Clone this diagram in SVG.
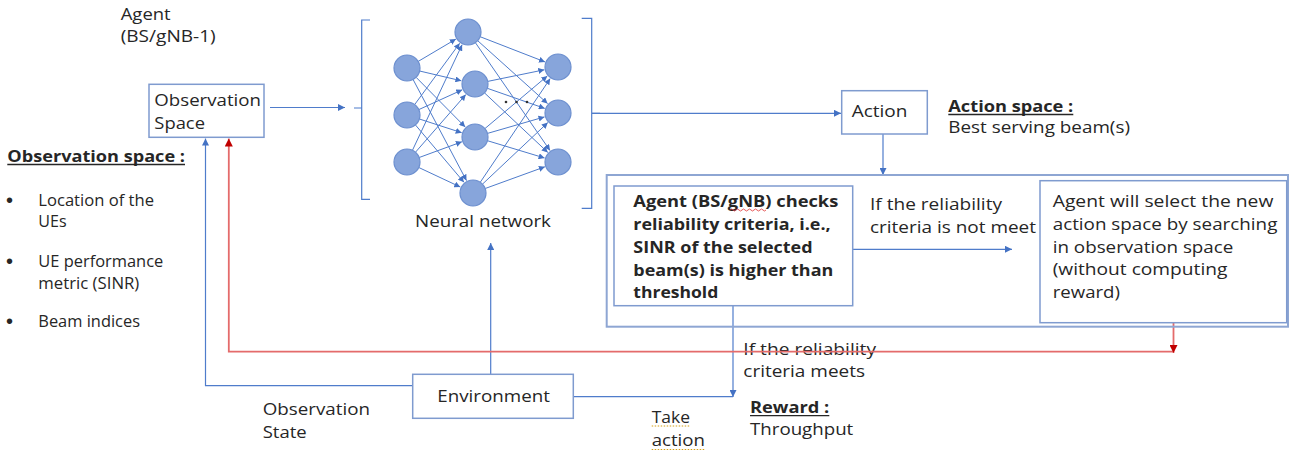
<svg xmlns="http://www.w3.org/2000/svg" width="1290" height="452" viewBox="0 0 1290 452">
<style>
text{font-family:"Open Sans","Liberation Sans",sans-serif;font-size:15.5px;fill:#262626}
.b{font-weight:bold}
.bul{font-size:20px;font-family:"Liberation Sans",sans-serif}
.box{fill:#fff;stroke:#7f9bcf;stroke-width:1.5}
.ln{fill:none;stroke:#4f7ccb;stroke-width:1.2}
.nn{stroke:#4f7ccb;stroke-width:1}
.red{fill:none;stroke:#e46b6b;stroke-width:1.8}
.node{fill:#87a5db;stroke:#6c8fcf;stroke-width:1.2}
.ul{stroke:#262626;stroke-width:1.3}
</style>
<defs>
<marker id="ab" viewBox="0 0 8 8" refX="8" refY="4" markerWidth="7" markerHeight="7" markerUnits="userSpaceOnUse" orient="auto"><path d="M0,0 L8,4 L0,8 z" fill="#4472c4"/></marker>
<marker id="an" viewBox="0 0 8 8" refX="8" refY="4" markerWidth="6" markerHeight="6" markerUnits="userSpaceOnUse" orient="auto"><path d="M0,0 L8,4 L0,8 z" fill="#4472c4"/></marker>
<marker id="ar" viewBox="0 0 8 8" refX="8" refY="4" markerWidth="8" markerHeight="8" markerUnits="userSpaceOnUse" orient="auto"><path d="M0,0 L8,4 L0,8 z" fill="#c00000"/></marker>
</defs>
<rect width="1290" height="452" fill="#fff"/>

<g id="labels">
<text x="120.7" y="20" textLength="50" lengthAdjust="spacingAndGlyphs">Agent</text>
<text x="120.7" y="42" textLength="95" lengthAdjust="spacingAndGlyphs">(BS/gNB-1)</text>
<text class="b" x="7.3" y="161.7" textLength="177.7" lengthAdjust="spacingAndGlyphs">Observation space :</text>
<line class="ul" x1="7.3" y1="164.5" x2="185" y2="164.5"/>
<text class="bul" x="6" y="207">•</text>
<text class="bul" x="6" y="268.3">•</text>
<text class="bul" x="6" y="328.3">•</text>
<text x="38.3" y="206" textLength="115.7" lengthAdjust="spacingAndGlyphs">Location of the</text>
<text x="38.3" y="226.7" textLength="28.3" lengthAdjust="spacingAndGlyphs">UEs</text>
<text x="38.3" y="267.3" textLength="125" lengthAdjust="spacingAndGlyphs">UE performance</text>
<text x="38.3" y="289.3" textLength="101" lengthAdjust="spacingAndGlyphs">metric (SINR)</text>
<text x="38.3" y="327.3" textLength="101.7" lengthAdjust="spacingAndGlyphs">Beam indices</text>
<text class="b" x="948.3" y="111.7" textLength="125" lengthAdjust="spacingAndGlyphs">Action space :</text>
<line class="ul" x1="948.3" y1="114.5" x2="1073.3" y2="114.5"/>
<text x="948.3" y="133.3" textLength="181.7" lengthAdjust="spacingAndGlyphs">Best serving beam(s)</text>
<text x="870" y="210" textLength="132" lengthAdjust="spacingAndGlyphs">If the reliability</text>
<text x="870" y="232.7" textLength="166" lengthAdjust="spacingAndGlyphs">criteria is not meet</text>
<text x="743.3" y="355" textLength="132.7" lengthAdjust="spacingAndGlyphs">If the reliability</text>
<text x="743.3" y="377.3" textLength="121.7" lengthAdjust="spacingAndGlyphs">criteria meets</text>
<text class="b" x="750" y="412.7" textLength="79.3" lengthAdjust="spacingAndGlyphs">Reward :</text>
<line class="ul" x1="750" y1="415.7" x2="829.3" y2="415.7"/>
<text x="750" y="435" textLength="103.3" lengthAdjust="spacingAndGlyphs">Throughput</text>
<text x="651.7" y="422.7" textLength="38.3" lengthAdjust="spacingAndGlyphs">Take</text>
<text x="651.7" y="446" textLength="53.3" lengthAdjust="spacingAndGlyphs">action</text>
<line x1="651.7" y1="426" x2="690" y2="426" stroke="#d4a017" stroke-width="1.2" stroke-dasharray="1.5 1.5"/>
<line x1="651.7" y1="449.5" x2="705" y2="449.5" stroke="#d4a017" stroke-width="1.2" stroke-dasharray="1.5 1.5"/>
<text x="262.7" y="415" textLength="107.3" lengthAdjust="spacingAndGlyphs">Observation</text>
<text x="262.7" y="438.3" textLength="44" lengthAdjust="spacingAndGlyphs">State</text>
</g>

<g id="connectors">
<line class="ln" x1="270" y1="107.5" x2="345" y2="107.5" marker-end="url(#ab)"/>
<line class="ln" x1="592" y1="113.3" x2="841" y2="113.3" marker-end="url(#ab)"/>
<line class="ln" x1="883" y1="134" x2="883" y2="175" marker-end="url(#ab)"/>
<line class="ln" x1="853" y1="249.3" x2="1012" y2="249.3" marker-end="url(#ab)"/>
<line class="ln" x1="733" y1="306" x2="733" y2="397" marker-end="url(#ab)"/>
<line class="ln" x1="573.3" y1="396.7" x2="733" y2="396.7"/>
<line class="ln" x1="490.7" y1="374.3" x2="490.7" y2="243" marker-end="url(#ab)"/>
<polyline class="ln" points="412.7,385.7 205.5,385.7 205.5,138.5" marker-end="url(#ab)"/>
<polyline class="red" points="1173.5,351.7 228.8,351.7 228.8,138.5" marker-end="url(#ar)"/>
<line class="red" x1="1173.5" y1="320" x2="1173.5" y2="353" marker-end="url(#ar)"/>
</g>

<g id="observation-space">
<rect class="box" x="149" y="84.3" width="115" height="53"/>
<text x="154.3" y="106" textLength="106.7" lengthAdjust="spacingAndGlyphs">Observation</text>
<text x="154.3" y="128.5" textLength="50.7" lengthAdjust="spacingAndGlyphs">Space</text>
</g>

<g id="neural-network">
<path class="ln" d="M370,20 H361.7 V199.3 H370 M354,108 H361.7"/>
<path class="ln" d="M581.7,18.3 H591.7 V208.3 H581.7 M591.7,113.3 H600"/>
<g class="nn" marker-end="url(#an)">
<line x1="418.2" y1="61.4" x2="455.9" y2="39.1"/>
<line x1="419.6" y1="71" x2="461.4" y2="80.8"/>
<line x1="416.1" y1="77.3" x2="465.2" y2="127"/>
<line x1="413.1" y1="79.5" x2="466.5" y2="180.6"/>
<line x1="414.7" y1="104.5" x2="459.7" y2="43.3"/>
<line x1="418.8" y1="109.6" x2="462.3" y2="89.8"/>
<line x1="419.4" y1="119" x2="461.7" y2="132.7"/>
<line x1="415.4" y1="124.9" x2="464" y2="182.3"/>
<line x1="412.5" y1="150.2" x2="462.1" y2="44.7"/>
<line x1="415.5" y1="152.2" x2="465.8" y2="94.6"/>
<line x1="419.2" y1="157.5" x2="461.9" y2="141.8"/>
<line x1="418.8" y1="167.5" x2="460.3" y2="187"/>
<line x1="480.1" y1="36.7" x2="545" y2="61.9"/>
<line x1="477.7" y1="40.7" x2="547.6" y2="103.6"/>
<line x1="475.4" y1="42.7" x2="550" y2="150.5"/>
<line x1="487.7" y1="81.4" x2="544.3" y2="69.8"/>
<line x1="487.3" y1="88.3" x2="544.8" y2="108.4"/>
<line x1="484.5" y1="92.9" x2="547.8" y2="152.4"/>
<line x1="484.9" y1="128.6" x2="547.3" y2="76"/>
<line x1="487.5" y1="133.4" x2="544.5" y2="116.9"/>
<line x1="487.4" y1="140.7" x2="544.6" y2="158"/>
<line x1="480.3" y1="182.2" x2="550.2" y2="78.6"/>
<line x1="482.5" y1="184.1" x2="547.8" y2="122.6"/>
<line x1="485.2" y1="188.5" x2="544.9" y2="166.8"/>
</g>
<circle class="node" cx="407" cy="68" r="13"/>
<circle class="node" cx="407" cy="115" r="13"/>
<circle class="node" cx="407" cy="162" r="13"/>
<circle class="node" cx="468" cy="32" r="13"/>
<circle class="node" cx="475" cy="84" r="13"/>
<circle class="node" cx="475" cy="137" r="13"/>
<circle class="node" cx="473" cy="193" r="13"/>
<circle class="node" cx="558" cy="67" r="13"/>
<circle class="node" cx="558" cy="113" r="13"/>
<circle class="node" cx="558" cy="162" r="13"/>
<g fill="#333"><circle cx="506" cy="102" r="1.3"/><circle cx="516.5" cy="102" r="1.3"/><circle cx="527" cy="102" r="1.3"/></g>
<text x="415" y="226.7" textLength="136" lengthAdjust="spacingAndGlyphs">Neural network</text>
</g>

<g id="action">
<rect class="box" x="841.7" y="90.7" width="85.6" height="43.3"/>
<text x="851.7" y="117.3" textLength="55.7" lengthAdjust="spacingAndGlyphs">Action</text>
</g>

<g id="reliability-container">
<rect fill="none" stroke="#8ea6d3" stroke-width="2" x="606.7" y="175" width="681.3" height="151.7"/>
</g>

<g id="check-box">
<rect class="box" x="614" y="186" width="238.7" height="119.7"/>
<text class="b" x="633.3" y="207.3" textLength="205" lengthAdjust="spacingAndGlyphs">Agent (BS/gNB) checks</text>
<path d="M730,210 q1.5,-2 3,0 t3,0 t3,0 t3,0 t3,0 t3,0 t3,0 t3,0 t3,0 t3,0 t3,0 t3,0" fill="none" stroke="#e03030" stroke-width="0.8"/>
<text class="b" x="633.3" y="230" textLength="197.3" lengthAdjust="spacingAndGlyphs">reliability criteria, i.e.,</text>
<text class="b" x="633.3" y="252.8" textLength="179.3" lengthAdjust="spacingAndGlyphs">SINR of the selected</text>
<text class="b" x="633.3" y="275.6" textLength="200" lengthAdjust="spacingAndGlyphs">beam(s) is higher than</text>
<text class="b" x="633.3" y="298.4" textLength="85" lengthAdjust="spacingAndGlyphs">threshold</text>
</g>

<g id="select-box">
<rect class="box" x="1040" y="180.7" width="246.7" height="142"/>
<text x="1052.7" y="206.7" textLength="220.7" lengthAdjust="spacingAndGlyphs">Agent will select the new</text>
<text x="1052.7" y="230" textLength="224.7" lengthAdjust="spacingAndGlyphs">action space by searching</text>
<text x="1052.7" y="252.7" textLength="180.7" lengthAdjust="spacingAndGlyphs">in observation space</text>
<text x="1052.7" y="275" textLength="174.7" lengthAdjust="spacingAndGlyphs">(without computing</text>
<text x="1052.7" y="298.3" textLength="67.3" lengthAdjust="spacingAndGlyphs">reward)</text>
</g>

<g id="environment">
<rect class="box" x="412.7" y="374.3" width="160.6" height="44"/>
<text x="437.3" y="401.7" textLength="112.7" lengthAdjust="spacingAndGlyphs">Environment</text>
</g>
</svg>
